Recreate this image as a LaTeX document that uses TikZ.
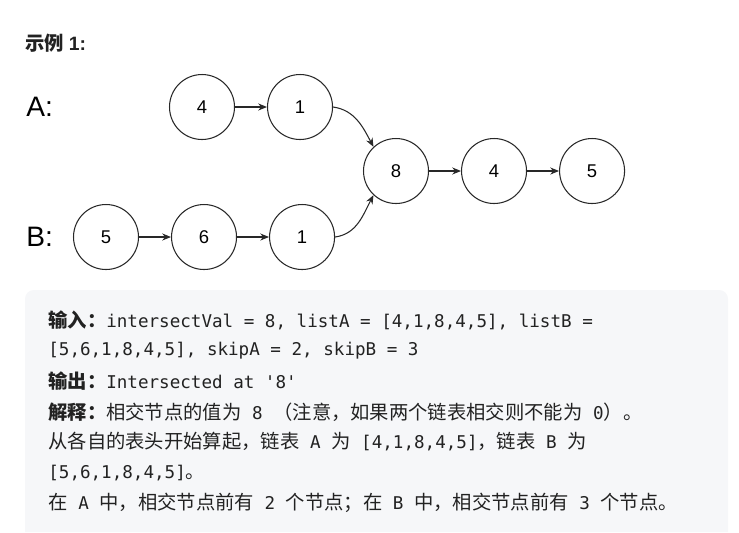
\documentclass[tikz,border=0pt]{standalone}
\usepackage{fontspec}
\setmainfont{Liberation Sans}
\setmonofont{DejaVu Sans Mono}
\newfontfamily\cjk{Noto Sans CJK SC}
\usetikzlibrary{
  arrows.meta,
  positioning
}
\definecolor{InkGray}{RGB}{40,40,40}
\definecolor{TextGray}{RGB}{34,34,34}
\definecolor{CodeBg}{RGB}{246,247,249}
\newcommand{\zh}[1]{{\cjk\fontsize{11}{14}\selectfont #1}}
\newcommand{\zhb}[1]{{\cjk\bfseries\fontsize{11}{14}\selectfont #1}}
\tikzset{
  %%── 链表节点 ─────────────────────────────────
  lnode/.style = {
    circle, draw = InkGray, line width = 0.6pt,
    minimum size = 1.3cm, inner sep = 0pt,
    font = \fontsize{10.5}{12}\selectfont
  },
  %%── 标签与代码行 ──────────────────────────────
  tag/.style = {
    anchor = west, inner sep = 0pt, text = black,
    font = \fontsize{16}{18}\selectfont
  },
  codeline/.style = {
    anchor = west, inner sep = 0pt, text = TextGray,
    font = \ttfamily\fontsize{10}{12}\selectfont
  },
  %%── 箭头 ─────────────────────────────────────
  arr/.style = {-{Stealth[length=5pt, width=4pt]}, line width = 0.6pt, color = InkGray},
}

\begin{document}
\begin{tikzpicture}[x=0.02cm, y=0.02cm]
  \useasboundingbox (0,0) rectangle (739,-532);

  %% 代码背景框
  \fill[CodeBg] (25,-532) [rounded corners=5pt] -- (25,-290) -- (728,-290) [sharp corners] -- (728,-532) -- cycle;

  \node[anchor=west, inner sep=0pt, text=TextGray] (title)
    at (25,-43) {\zhb{示例} \textbf{\fontsize{11}{12}\selectfont 1:}};

  \node[tag] (tagA) at (26,-107) {A:};
  \node[tag] (tagB) at (26,-237) {B:};

  %% 链表 A
  \node[lnode] (a4) at (202,-107) {4};
  \node[lnode, right=0.64cm of a4] (a1) {1};

  %% 公共部分
  \node[lnode] (hub) at (396,-171) {8};
  \node[lnode, right=0.64cm of hub] (c4) {4};
  \node[lnode, right=0.64cm of c4]  (c5) {5};

  %% 链表 B
  \node[lnode] (b5) at (106,-237) {5};
  \node[lnode, right=0.64cm of b5] (b6) {6};
  \node[lnode, right=0.64cm of b6] (b1) {1};

  %% 箭头
  \draw[arr] (a4) -- (a1);
  \draw[arr] (b5) -- (b6);
  \draw[arr] (b6) -- (b1);
  \draw[arr] (hub) -- (c4);
  \draw[arr] (c4) -- (c5);
  \draw[arr] (a1.east) to[out=-8,in=118] (hub.133);
  \draw[arr] (b1.east) to[out=8,in=-118] (hub.227);

  %% 说明文字
  \node[codeline] (l1) at (48,-320) {\zhb{输入：}intersectVal = 8, listA = [4,1,8,4,5], listB =};
  \node[codeline] (l2) at (48,-351) {[5,6,1,8,4,5], skipA = 2, skipB = 3};
  \node[codeline] (l3) at (48,-381) {\zhb{输出：}Intersected at \textquotesingle 8\textquotesingle};
  \node[codeline] (l4) at (48,-412) {\zhb{解释：}\zh{相交节点的值为} 8 \zh{（注意，如果两个链表相交则不能为} 0\zh{）。}};
  \node[codeline] (l5) at (48,-442) {\zh{从各自的表头开始算起，链表} A \zh{为} [4,1,8,4,5]\zh{，链表} B \zh{为}};
  \node[codeline] (l6) at (48,-473) {[5,6,1,8,4,5]\zh{。}};
  \node[codeline] (l7) at (48,-503) {\zh{在} A \zh{中，相交节点前有} 2 \zh{个节点；在} B \zh{中，相交节点前有} 3 \zh{个节点。}};

\end{tikzpicture}
\end{document}
